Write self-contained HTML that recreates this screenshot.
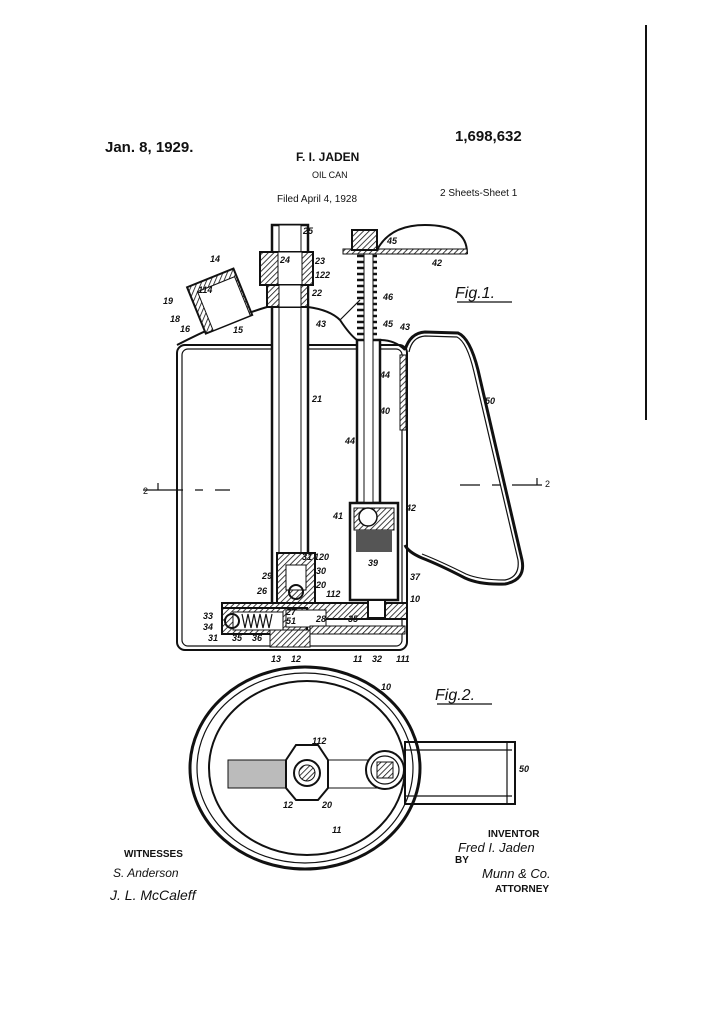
<!DOCTYPE html>
<html><head><meta charset="utf-8"><style>
html,body{margin:0;padding:0;background:#fff}
svg{display:block}
text{font-family:"Liberation Sans",sans-serif;fill:#111}
.s{fill:none;stroke:#111;stroke-width:2}
.t{fill:none;stroke:#111;stroke-width:1.2}
.h{fill:#fff;stroke:#111;stroke-width:2.5}
.n{font-family:"Liberation Serif",serif;font-style:italic;font-size:9px;font-weight:bold}
</style></head><body>
<svg width="724" height="1024" viewBox="0 0 724 1024" xmlns="http://www.w3.org/2000/svg">
<defs><pattern id="hp" width="4" height="4" patternUnits="userSpaceOnUse" patternTransform="rotate(45)"><rect width="4" height="4" fill="#fff"/><line x1="0" y1="0" x2="0" y2="4" stroke="#111" stroke-width="1.6"/></pattern></defs>
<line x1="646" y1="25" x2="646" y2="420" stroke="#111" stroke-width="2"/>
<text x="105" y="152" font-size="15" font-weight="bold">Jan. 8, 1929.</text>
<text x="455" y="141" font-size="15" font-weight="bold">1,698,632</text>
<text x="296" y="161" font-size="12" font-weight="bold">F. I. JADEN</text>
<text x="312" y="178" font-size="9" font-family="Liberation Mono">OIL CAN</text>
<text x="277" y="202" font-size="10" font-family="Liberation Mono">Filed April 4, 1928</text>
<text x="440" y="196" font-size="10" font-family="Liberation Mono">2 Sheets-Sheet  1</text>
<!-- can body -->
<rect x="177" y="345" width="230" height="305" rx="8" class="s" stroke-width="3"/>
<rect x="182" y="349" width="220" height="297" rx="6" class="t"/>
<path d="M177 345 Q230 318 267 307 M308 307 Q330 310 340 320 Q350 335 357 340 L380 340 Q395 340 405 350" class="s"/>
<path d="M340 320 Q355 305 360 300" class="t"/>
<!-- tube -->
<rect x="272" y="225" width="36" height="380" class="h" fill="url(#hp)"/>
<rect x="279" y="225" width="22" height="380" fill="#fff" stroke="#111" stroke-width="1"/>
<rect x="260" y="252" width="53" height="33" fill="url(#hp)" stroke="#111" stroke-width="2"/>
<rect x="278" y="252" width="24" height="33" fill="#fff" stroke="#111"/>
<rect x="267" y="285" width="41" height="22" fill="url(#hp)" stroke="#111" stroke-width="2"/>
<rect x="279" y="285" width="22" height="22" fill="#fff" stroke="#111"/>
<rect x="277" y="553" width="38" height="50" fill="url(#hp)" stroke="#111" stroke-width="2"/>
<rect x="286" y="565" width="20" height="25" fill="#fff" stroke="#111"/>
<circle cx="296" cy="592" r="7" class="s"/>
<!-- base -->
<rect x="222" y="603" width="185" height="16" fill="url(#hp)" stroke="#111" stroke-width="2"/>
<rect x="222" y="608" width="85" height="26" fill="url(#hp)" stroke="#111" stroke-width="2"/>
<rect x="286" y="610" width="40" height="17" fill="#fff" stroke="#111"/>
<rect x="233" y="612" width="50" height="18" fill="#fff" stroke="#111"/>
<circle cx="232" cy="621" r="7" class="s"/>
<path d="M242 614 l3 14 l3 -14 l3 14 l3 -14 l3 14 l3 -14 l3 14 l3 -14 l3 14 l3 -14" class="t"/>
<rect x="270" y="630" width="40" height="17" fill="url(#hp)" stroke="#111"/>
<rect x="310" y="626" width="95" height="8" fill="url(#hp)" stroke="#111"/>
<!-- pump -->
<path d="M350 253 h117 q0 -28 -42 -28 q-35 0 -48 25" fill="#fff" stroke="#111" stroke-width="2"/>
<rect x="343" y="249" width="124" height="5" fill="url(#hp)" stroke="#111"/>
<rect x="352" y="230" width="25" height="20" fill="url(#hp)" stroke="#111" stroke-width="2"/>
<path d="M357 256 h20 M357 262 h20 M357 268 h20 M357 274 h20 M357 280 h20 M357 286 h20 M357 292 h20 M357 298 h20 M357 304 h20 M357 310 h20 M357 316 h20 M357 322 h20 M357 328 h20 M357 334 h20" stroke="#111" stroke-width="2.5"/>
<rect x="357" y="340" width="23" height="163" class="h"/>
<rect x="364" y="254" width="9" height="250" fill="#fff" stroke="#111"/>
<rect x="350" y="503" width="48" height="97" class="h"/>
<rect x="354" y="508" width="40" height="22" fill="url(#hp)" stroke="#111"/>
<circle cx="368" cy="517" r="9" fill="#fff" stroke="#111" stroke-width="1.5"/>
<rect x="356" y="530" width="36" height="22" fill="#555"/>
<rect x="368" y="600" width="17" height="18" fill="#fff" stroke="#111" stroke-width="2"/>
<rect x="400" y="355" width="6" height="75" fill="url(#hp)" stroke="#111"/>
<!-- handle -->
<path d="M405 350 Q410 333 425 332 L458 333 Q470 338 478 370 L522 560 Q526 580 505 584 Q480 585 465 578 Q440 565 422 558 Q408 552 405 545" fill="none" stroke="#111" stroke-width="3"/>
<path d="M409 352 Q412 337 425 336 L457 337 Q467 342 474 372 L518 560 Q520 577 505 580 Q480 580 466 574 Q440 561 422 554" class="t"/>
<!-- cap 14 -->
<g transform="rotate(-22 220 302)"><rect x="195" y="276" width="50" height="50" fill="url(#hp)" stroke="#111" stroke-width="2"/><rect x="203" y="284" width="40" height="42" fill="#fff" stroke="#111"/></g>
<!-- section lines -->
<path d="M143 490 h40 M195 490 h8 M215 490 h15 M460 485 h20 M492 485 h8 M512 485 h30" class="t"/>
<path d="M158 483 v7 M537 478 v7" class="t"/>
<text x="143" y="494" font-size="9">2</text><text x="545" y="487" font-size="9">2</text>
<!-- fig labels -->
<text x="455" y="298" font-size="16" font-style="italic" font-family="Liberation Serif">Fig.1.</text>
<line x1="457" y1="302" x2="512" y2="302" class="t"/>
<text x="435" y="700" font-size="16" font-style="italic" font-family="Liberation Serif">Fig.2.</text>
<line x1="437" y1="704" x2="492" y2="704" class="t"/>
<!-- numbers -->
<g class="n">
<text x="303" y="234">25</text><text x="280" y="263">24</text><text x="315" y="264">23</text><text x="315" y="278">122</text><text x="312" y="296">22</text>
<text x="210" y="262">14</text><text x="198" y="293">114</text><text x="163" y="304">19</text><text x="170" y="322">18</text><text x="180" y="332">16</text><text x="233" y="333">15</text>
<text x="312" y="402">21</text><text x="316" y="327">43</text><text x="387" y="244">45</text><text x="432" y="266">42</text><text x="383" y="300">46</text><text x="383" y="327">45</text><text x="400" y="330">43</text>
<text x="380" y="378">44</text><text x="380" y="414">40</text><text x="345" y="444">44</text><text x="485" y="404">50</text>
<text x="333" y="519">41</text><text x="406" y="511">42</text><text x="368" y="566">39</text><text x="410" y="580">37</text><text x="410" y="602">10</text>
<text x="302" y="560">31</text><text x="314" y="560">120</text><text x="316" y="574">30</text><text x="262" y="579">29</text><text x="316" y="588">20</text><text x="257" y="594">26</text><text x="326" y="597">112</text>
<text x="286" y="615">27</text><text x="286" y="624">51</text><text x="316" y="622">28</text><text x="348" y="622">35</text>
<text x="203" y="619">33</text><text x="203" y="630">34</text><text x="208" y="641">31</text><text x="232" y="641">35</text><text x="252" y="641">36</text>
<text x="271" y="662">13</text><text x="291" y="662">12</text><text x="353" y="662">11</text><text x="372" y="662">32</text><text x="396" y="662">111</text>
<text x="381" y="690">10</text><text x="312" y="744">112</text><text x="519" y="772">50</text><text x="283" y="808">12</text><text x="322" y="808">20</text><text x="332" y="833">11</text>
</g>
<!-- fig 2 -->
<rect x="405" y="742" width="110" height="62" fill="#fff" stroke="#111" stroke-width="2"/>
<line x1="405" y1="750" x2="512" y2="750" class="t"/><line x1="405" y1="796" x2="512" y2="796" class="t"/>
<line x1="507" y1="742" x2="507" y2="804" class="t"/>
<ellipse cx="305" cy="768" rx="115" ry="101" fill="none" stroke="#111" stroke-width="3"/>
<ellipse cx="305" cy="768" rx="108" ry="95" class="t"/>
<ellipse cx="307" cy="768" rx="98" ry="87" class="s"/>
<rect x="228" y="760" width="60" height="28" fill="#bbb" stroke="#111"/>
<rect x="325" y="760" width="60" height="28" fill="#fff" stroke="#111"/>
<polygon points="286,760 296,745 318,745 328,760 328,788 318,800 296,800 286,788" fill="#fff" stroke="#111" stroke-width="2"/>
<circle cx="307" cy="773" r="13" class="s"/><circle cx="307" cy="773" r="8" fill="url(#hp)" stroke="#111"/>
<circle cx="385" cy="770" r="19" fill="#fff" stroke="#111" stroke-width="2"/><circle cx="385" cy="770" r="14" class="t"/>
<rect x="377" y="762" width="16" height="16" fill="url(#hp)" stroke="#111"/>
<!-- signatures -->
<text x="124" y="857" font-size="10" font-weight="bold">WITNESSES</text>
<text x="113" y="877" font-size="12" font-style="italic" font-family="Liberation Serif">S. Anderson</text>
<text x="110" y="900" font-size="14" font-style="italic" font-family="Liberation Serif">J. L. McCaleff</text>
<text x="488" y="837" font-size="10" font-weight="bold">INVENTOR</text>
<text x="458" y="852" font-size="13" font-style="italic" font-family="Liberation Serif">Fred I. Jaden</text>
<text x="455" y="863" font-size="10" font-weight="bold">BY</text>
<text x="482" y="878" font-size="13" font-style="italic" font-family="Liberation Serif">Munn &amp; Co.</text>
<text x="495" y="892" font-size="10" font-weight="bold">ATTORNEY</text>
</svg>
</body></html>
